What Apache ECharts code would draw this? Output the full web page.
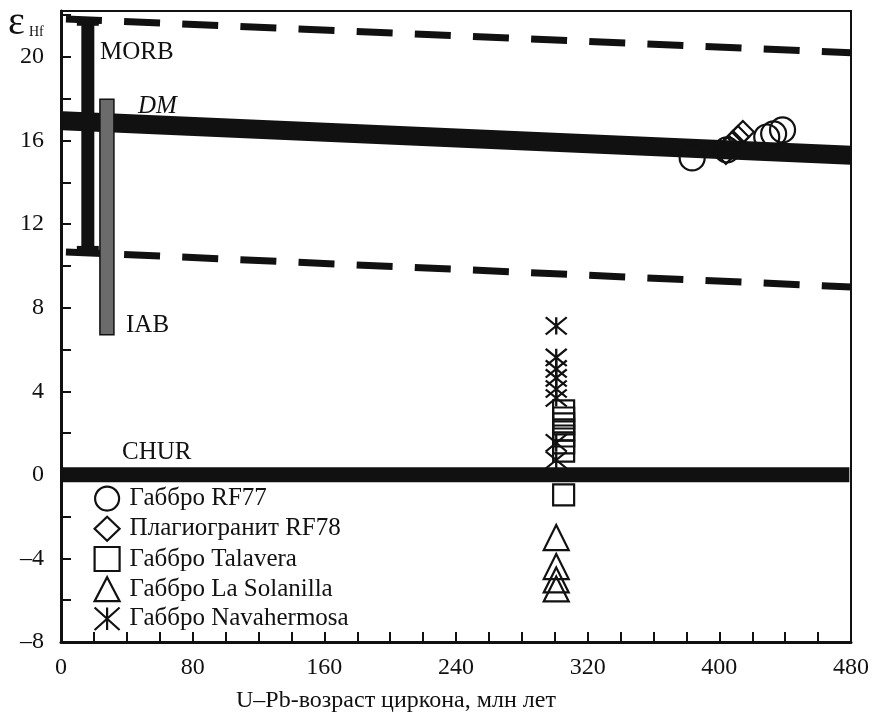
<!DOCTYPE html>
<html><head><meta charset="utf-8">
<script src="https://cdn.jsdelivr.net/npm/echarts@6/dist/echarts.min.js"></script>
<style>html,body{margin:0;padding:0;background:#fff}#c{width:872px;height:718px}</style>
</head><body><div id="c"></div>
<script>
// ---- data ----
const xTickLabels = [0, 80, 160, 240, 320, 400, 480];
const yTickLabels = [-8, -4, 0, 4, 8, 12, 16, 20];
const morbUpperLine = [[3, 21.82], [480, 20.2]];
const morbLowerLine = [[3, 10.67], [480, 8.99]];
const dmLine = [[1, 16.95], [480, 15.3]];
const churLine = [[1, 0], [479, 0]];
const morbRange = [[16.3, 10.67, 21.78]];
const iabRange = [[27.9, 6.7, 17.98]];
const rf77 = [[383.5, 15.17], [404.6, 15.55], [428.8, 16.17], [433.0, 16.32], [438.4, 16.51]];
const rf78 = [[404.0, 15.41], [405.8, 15.70], [408.3, 15.93], [411.3, 16.17], [414.3, 16.41]];
const talavera = [[305.4, 3.06], [305.4, 2.72], [305.4, 2.44], [305.4, 2.15], [305.4, 1.86], [305.4, 1.53], [305.4, 1.14], [305.4, -0.96]];
const laSolanilla = [[300.9, -3.0], [300.9, -4.39], [300.9, -5.03], [300.9, -5.46]];
const navahermosa = [[300.9, 7.13], [300.9, 5.62], [300.9, 5.07], [300.9, 4.64], [300.9, 4.11], [300.9, 3.68], [300.9, 1.53], [300.9, 0.71]];
const seriesNames = ['Габбро RF77', 'Плагиогранит RF78', 'Габбро Talavera', 'Габбро La Solanilla', 'Габбро Navahermosa'];
const xTitle = 'U–Pb-возраст циркона, млн лет';

const FONT = "'Liberation Serif', 'DejaVu Serif', serif";
const INK = '#111';
const asterisk = 'path://M0,0L20,18M20,0L0,18M10,0L10,18';

const chart = echarts.init(document.getElementById('c'), null, {renderer: 'canvas'});

function lineSeries(data, width, dashed) {
  return {
    type: 'line', data: data, showSymbol: false, silent: true, animation: false,
    lineStyle: {color: INK, width: width, type: dashed ? [36, 22.2] : 'solid', cap: 'butt'},
    z: 2
  };
}
function scatter(name, data, symbol, size) {
  return {
    type: 'scatter', name: name, data: data, symbol: symbol, symbolSize: size,
    symbolKeepAspect: true,
    itemStyle: {color: 'rgba(0,0,0,0)', borderColor: INK, borderWidth: 2.2, opacity: 1},
    animation: false, z: 5
  };
}

chart.setOption({
  backgroundColor: '#fff',
  animation: false,
  grid: {left: 61, right: 15, top: 11, bottom: 76, show: true, borderColor: INK, borderWidth: 2, backgroundColor: 'transparent'},
  xAxis: {
    type: 'value', min: 0, max: 480, interval: 20,
    axisLine: {show: true, onZero: false, lineStyle: {color: INK, width: 3}},
    axisTick: {show: true, inside: true, length: 10, lineStyle: {color: INK, width: 2}},
    axisLabel: {
      margin: 14, fontFamily: FONT, fontSize: 24, color: INK,
      formatter: v => xTickLabels.indexOf(v) >= 0 ? String(v) : ''
    },
    splitLine: {show: false}
  },
  yAxis: {
    type: 'value', min: -8, max: 22.2, interval: 2,
    axisLine: {show: true, onZero: false, lineStyle: {color: INK, width: 3}},
    axisTick: {show: true, inside: true, length: 10, lineStyle: {color: INK, width: 2}},
    axisLabel: {
      margin: 17, fontFamily: FONT, fontSize: 24, color: INK,
      formatter: v => yTickLabels.indexOf(v) >= 0 ? (v < 0 ? '–' + Math.abs(v) : String(v)) : ''
    },
    splitLine: {show: false}
  },
  legend: {
    orient: 'vertical', left: 93.5, top: 485.5, padding: 0,
    itemWidth: 25, itemHeight: 24, itemGap: 4,
    data: seriesNames,
    textStyle: {fontFamily: FONT, fontSize: 25, color: INK, padding: [0, 0, 0, 5]},
    itemStyle: {color: 'rgba(0,0,0,0)', borderColor: INK, borderWidth: 2.2},
    selectedMode: false
  },
  graphic: [
    {type: 'text', left: 8, top: 3, style: {text: 'ε', fontFamily: FONT, fontSize: 40, fill: INK}},
    {type: 'text', left: 29, top: 25, style: {text: 'Hf', fontFamily: FONT, fontSize: 14, fill: INK}},
    {type: 'text', left: 100, top: 40, style: {text: 'MORB', fontFamily: FONT, fontSize: 25, fill: INK}},
    {type: 'text', left: 138, top: 94, style: {text: 'DM', fontFamily: FONT, fontSize: 25, fontStyle: 'italic', fill: INK}},
    {type: 'text', left: 126, top: 313, style: {text: 'IAB', fontFamily: FONT, fontSize: 25, fill: INK}},
    {type: 'text', left: 122, top: 440, style: {text: 'CHUR', fontFamily: FONT, fontSize: 25, fill: INK}},
    {type: 'text', left: 236, top: 689, style: {text: xTitle, fontFamily: FONT, fontSize: 24, fill: INK}}
  ],
  series: [
    lineSeries(morbUpperLine, 7, true),
    lineSeries(morbLowerLine, 7, true),
    lineSeries(dmLine, 19, false),
    lineSeries(churLine, 15, false),
    {
      type: 'custom', data: morbRange, silent: true, z: 3,
      renderItem: function (params, api) {
        const x = api.value(0), lo = api.value(1), hi = api.value(2);
        const t = api.coord([x, hi]), b = api.coord([x, lo]);
        return {type: 'group', children: [
          {type: 'rect', shape: {x: t[0] - 6.5, y: t[1], width: 13, height: b[1] - t[1]}, style: {fill: INK}},
          {type: 'rect', shape: {x: t[0] - 11, y: t[1], width: 22, height: 6}, style: {fill: INK}},
          {type: 'rect', shape: {x: b[0] - 11, y: b[1] - 6, width: 22, height: 6}, style: {fill: INK}}
        ]};
      }
    },
    {
      type: 'custom', data: iabRange, silent: true, z: 3,
      renderItem: function (params, api) {
        const x = api.value(0), lo = api.value(1), hi = api.value(2);
        const t = api.coord([x, hi]), b = api.coord([x, lo]);
        return {type: 'rect', shape: {x: t[0] - 7, y: t[1], width: 14, height: b[1] - t[1]},
          style: {fill: '#6b6b6b', stroke: INK, lineWidth: 1.5}};
      }
    },
    scatter(seriesNames[0], rf77, 'circle', 25),
    scatter(seriesNames[1], rf78, 'diamond', 22),
    scatter(seriesNames[2], talavera, 'rect', 21),
    scatter(seriesNames[3], laSolanilla, 'triangle', 25),
    scatter(seriesNames[4], navahermosa, asterisk, [21, 19])
  ]
});
</script></body></html>
